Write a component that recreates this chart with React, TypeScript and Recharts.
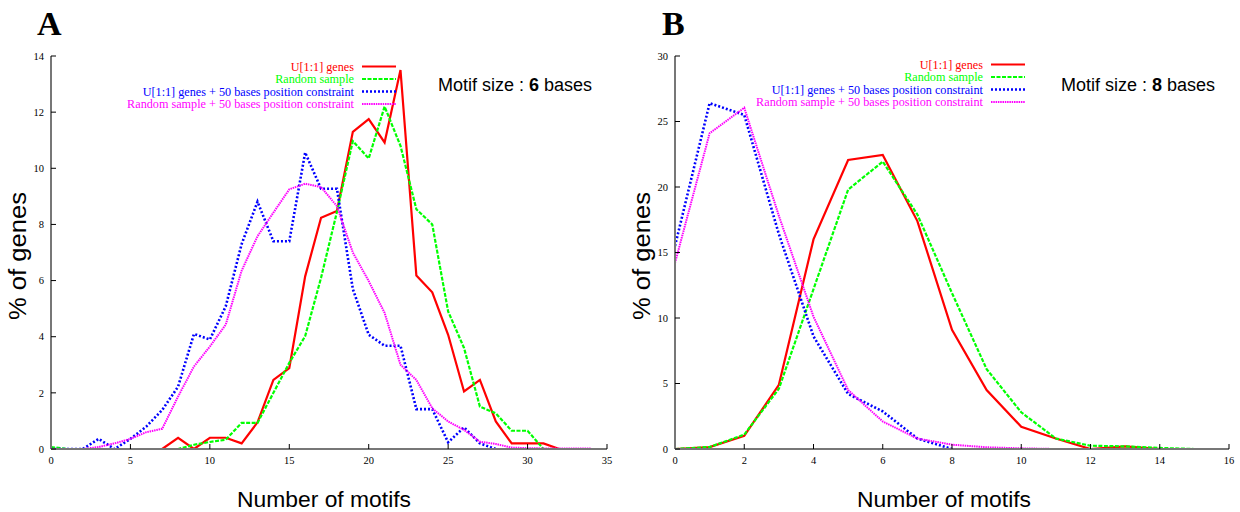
import React from 'react';
import { LineChart, Line, XAxis, YAxis } from 'recharts';

// ---------- Panel A (motif size 6) ----------
const aCounts = [0, 1, 2, 3, 4, 5, 6, 7, 8, 9, 10, 11, 12, 13, 14, 15, 16, 17, 18, 19, 20, 21, 22, 23, 24, 25, 26, 27, 28, 29, 30, 31, 32, 33, 34];
const aRed = [0, 0, 0, 0, 0, 0, 0, 0, 0.4, 0, 0.4, 0.4, 0.2, 0.95, 2.46, 2.88, 6.15, 8.24, 8.48, 11.3, 11.75, 10.92, 13.5, 6.18, 5.58, 4.07, 2.05, 2.46, 0.98, 0.2, 0.2, 0.2, 0];
const aGreen = [0.07, 0, 0, 0, 0, 0, 0, 0, 0, 0.15, 0.25, 0.33, 0.93, 0.93, 2.0, 3.07, 4.02, 6.1, 8.45, 10.97, 10.35, 12.2, 10.8, 8.54, 8.0, 4.9, 3.6, 1.51, 1.27, 0.65, 0.65, 0, 0, 0];
const aBlue = [0, 0, 0, 0.36, 0, 0.36, 0.8, 1.39, 2.22, 4.1, 3.9, 5.08, 7.3, 8.81, 7.4, 7.4, 10.56, 9.27, 9.27, 5.7, 4.07, 3.68, 3.68, 1.42, 1.42, 0.24, 0.77, 0.2, 0];
const aMagenta = [0, 0, 0, 0.07, 0.2, 0.36, 0.6, 0.72, 1.87, 2.94, 3.65, 4.43, 6.35, 7.58, 8.42, 9.25, 9.45, 9.33, 8.65, 7.0, 5.98, 4.85, 3.0, 2.46, 1.45, 0.98, 0.68, 0.26, 0.18, 0.05, 0.03, 0.02, 0.02, 0.02, 0.02];
const aXTicks = [0, 5, 10, 15, 20, 25, 30, 35];
const aYTicks = [0, 2, 4, 6, 8, 10, 12, 14];

// ---------- Panel B (motif size 8) ----------
const bCounts = [0, 1, 2, 3, 4, 5, 6, 7, 8, 9, 10, 11, 12, 13, 14, 15];
const bRed = [0, 0.15, 1.0, 4.9, 16.0, 22.06, 22.45, 17.4, 9.1, 4.5, 1.7, 0.8, 0, 0.2, 0];
const bGreen = [0, 0.15, 1.1, 4.6, 12.2, 19.8, 21.94, 17.9, 11.9, 6.1, 2.8, 0.8, 0.25, 0.2, 0.08, 0];
const bBlue = [15.5, 26.4, 25.5, 16.4, 8.6, 4.2, 2.87, 0.8, 0];
const bMagenta = [14.2, 24.1, 26.05, 17.8, 10.1, 4.5, 2.1, 0.8, 0.33, 0.13, 0.05, 0];
const bXTicks = [0, 2, 4, 6, 8, 10, 12, 14, 16];
const bYTicks = [0, 5, 10, 15, 20, 25, 30];

const seriesNames = ['U[1:1] genes', 'Random sample', 'U[1:1] genes + 50 bases position constraint', 'Random sample + 50 bases position constraint'];

const SERIES = [
  { key: 'red', name: seriesNames[0], color: '#ff0000', width: 2.2, dash: undefined as string | undefined },
  { key: 'green', name: seriesNames[1], color: '#00ff00', width: 2.2, dash: '4 1.5' },
  { key: 'blue', name: seriesNames[2], color: '#0000ff', width: 2.6, dash: '2 2' },
  { key: 'magenta', name: seriesNames[3], color: '#ff00ff', width: 2, dash: '1.5 0.8' },
];

function buildTable(counts: number[], red: number[], green: number[], blue: number[], magenta: number[]) {
  return counts.map((x, i) => ({ x, red: red[i], green: green[i], blue: blue[i], magenta: magenta[i] }));
}

const dataA = buildTable(aCounts, aRed, aGreen, aBlue, aMagenta);
const dataB = buildTable(bCounts, bRed, bGreen, bBlue, bMagenta);

const AXIS_LINE = { stroke: '#777', strokeWidth: 2 };
const TICK_LINE = { stroke: '#000', strokeWidth: 1 };
const TICK_STYLE = { fill: '#000', fontFamily: '"Liberation Serif", serif', fontSize: 10.5 };
const blank = () => '';

type PanelProps = {
  left: number;
  letter: string;
  letterX: number;
  data: any[];
  xDomain: [number, number];
  yDomain: [number, number];
  xTicks: number[];
  yTicks: number[];
  yAxisWidth: number;
  marginRight: number;
  motif: string;
  motifX: number;
  legendRight: number;
  legendTop: number;
  yTitleX: number;
};

function Panel(p: PanelProps) {
  return (
    <div style={{ position: 'absolute', left: p.left, top: 0, width: 620, height: 512 }}>
      <LineChart width={620} height={512} data={p.data} margin={{ top: 56, right: p.marginRight, left: 0, bottom: 33 }}>
        <XAxis xAxisId="b" dataKey="x" type="number" domain={p.xDomain} ticks={p.xTicks} interval={0} height={30}
          tickSize={-5} tickMargin={13} axisLine={AXIS_LINE} tickLine={TICK_LINE} tick={TICK_STYLE} allowDataOverflow />
        <XAxis xAxisId="t" dataKey="x" orientation="top" type="number" domain={p.xDomain} ticks={p.xTicks} interval={0} height={0}
          tickSize={-5} tickFormatter={blank} axisLine={AXIS_LINE} tickLine={TICK_LINE} tick={TICK_STYLE} allowDataOverflow />
        <YAxis yAxisId="l" type="number" domain={p.yDomain} ticks={p.yTicks} interval={0} width={p.yAxisWidth}
          tickSize={-5} tickMargin={12} axisLine={AXIS_LINE} tickLine={TICK_LINE} tick={TICK_STYLE} allowDataOverflow />
        <YAxis yAxisId="r" orientation="right" type="number" domain={p.yDomain} ticks={p.yTicks} interval={0} width={0}
          tickSize={-5} tickFormatter={blank} axisLine={AXIS_LINE} tickLine={TICK_LINE} tick={TICK_STYLE} allowDataOverflow />
        {SERIES.map((s) => (
          <Line key={s.key} xAxisId="b" yAxisId="l" dataKey={s.key} name={s.name} type="linear" stroke={s.color}
            strokeWidth={s.width} strokeDasharray={s.dash} dot={false} activeDot={false} isAnimationActive={false} />
        ))}
      </LineChart>
      <svg width={620} height={512} style={{ position: 'absolute', left: 0, top: 0, pointerEvents: 'none' }}>
        <text x={p.letterX} y={35} fontFamily='"Liberation Serif", serif' fontWeight="bold" fontSize={34} fill="#000">{p.letter}</text>
        <text x={p.yTitleX} y={256} transform={`rotate(-90 ${p.yTitleX} 256)`} textAnchor="middle" dominantBaseline="central"
          textLength={128} lengthAdjust="spacingAndGlyphs"
          fontFamily='"Liberation Sans", Arial, sans-serif' fontSize={23} fill="#000">% of genes</text>
        <text x={324} y={507} textAnchor="middle" textLength={174} lengthAdjust="spacingAndGlyphs"
          fontFamily='"Liberation Sans", Arial, sans-serif' fontSize={22} fill="#000">Number of motifs</text>
        <text x={p.motifX} y={91} fontFamily='"Liberation Sans", Arial, sans-serif' fontSize={18} fill="#000">
          Motif size : <tspan fontWeight="bold">{p.motif}</tspan> bases
        </text>
        {SERIES.map((s, i) => {
          const cy = p.legendTop + i * 12.5;
          return (
            <g key={s.key}>
              <text x={p.legendRight} y={cy + 4} textAnchor="end" fontFamily='"Liberation Serif", serif' fontSize={12.2} fill={s.color}>{s.name}</text>
              <line x1={p.legendRight + 8} x2={p.legendRight + 42} y1={cy} y2={cy} stroke={s.color} strokeWidth={s.width} strokeDasharray={s.dash} />
            </g>
          );
        })}
      </svg>
    </div>
  );
}

export default function App() {
  return (
    <div style={{ position: 'absolute', left: 0, top: 0, width: 1240, height: 512, background: '#fff', overflow: 'hidden' }}>
      <Panel left={0} letter="A" letterX={37} data={dataA} xDomain={[0, 35]} yDomain={[0, 14]} xTicks={aXTicks} yTicks={aYTicks}
        yAxisWidth={51} marginRight={13} motif="6" motifX={438} legendRight={354} legendTop={66.5} yTitleX={18} />
      <Panel left={620} letter="B" letterX={42} data={dataB} xDomain={[0, 16]} yDomain={[0, 30]} xTicks={bXTicks} yTicks={bYTicks}
        yAxisWidth={55} marginRight={11} motif="8" motifX={441} legendRight={363} legendTop={64.5} yTitleX={22} />
    </div>
  );
}
